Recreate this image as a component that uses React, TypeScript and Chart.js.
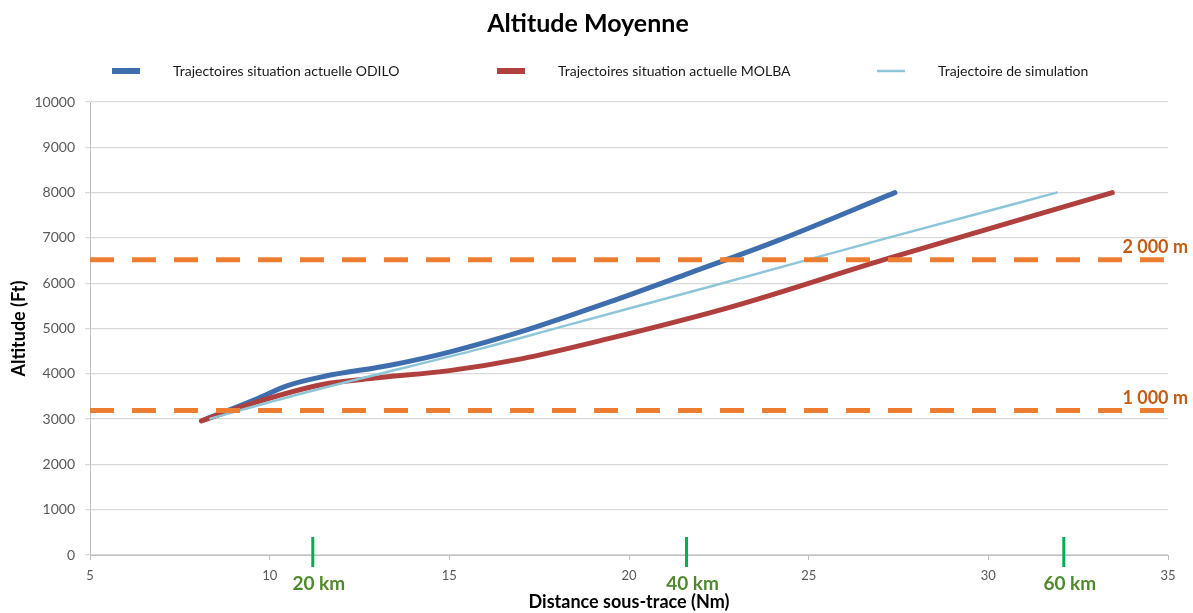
import React, { useEffect, useRef } from "react";
import { Chart, registerables } from "chart.js";

Chart.register(...registerables);

// ---- Data ----
const odiloX = [8.2, 9.65, 10.5, 11.5, 13.35, 15.0, 17.0, 19.4, 21.7, 24.1, 27.4];
const odiloY = [2990, 3450, 3740, 3940, 4190, 4480, 4930, 5570, 6230, 6930, 8000];

const molbaX = [8.1, 9.65, 11.5, 13.0, 15.0, 17.0, 19.4, 22.9, 27.1, 33.45];
const molbaY = [2960, 3380, 3770, 3910, 4070, 4330, 4770, 5490, 6520, 8000];

const simX = [8.35, 10.3, 12.4, 15.85, 18.08, 22.6, 27.2, 31.9];
const simY = [3010, 3440, 3870, 4550, 5030, 6000, 7000, 8000];

const thresholdsFt = [6520, 3190];
const thresholdLabels = ["2 000 m", "1 000 m"];

const kmMarksNm = [11.2, 21.6, 32.1];
const kmLabels = ["20 km", "40 km", "60 km"];

const seriesLabels = [
  "Trajectoires situation actuelle ODILO",
  "Trajectoires situation actuelle MOLBA",
  "Trajectoire de simulation",
];
const chartTitle = "Altitude Moyenne";
const xTitle = "Distance sous-trace (Nm)";
const yTitle = "Altitude (Ft)";
const xMin = 5, xMax = 35, xStep = 5;
const yMin = 0, yMax = 10000, yStep = 1000;

// ---- Styles ----
const BLUE = "#3F6EAE";
const RED = "#B0403D";
const LIGHT = "#8DC5D9";
const ORANGE = "#ED7D31";
const GREEN = "#00B050";
const KM_TEXT = "#4E8A2C";
const M_TEXT = "#C55A11";
const FONT = "Lato, 'Open Sans', sans-serif";

const pts = (xs: number[], ys: number[]) => xs.map((x, i) => ({ x, y: ys[i] }));

const overlayPlugin = {
  id: "overlay",
  afterDatasetsDraw(chart: any) {
    const ctx = chart.ctx;
    const xs = chart.scales.x;
    const ys = chart.scales.y;
    const area = chart.chartArea;
    ctx.save();
    kmMarksNm.forEach((v, i) => {
      const px = xs.getPixelForValue(v);
      ctx.strokeStyle = GREEN;
      ctx.lineWidth = 3;
      ctx.beginPath();
      ctx.moveTo(px, area.bottom - 18);
      ctx.lineTo(px, area.bottom + 12);
      ctx.stroke();
      ctx.fillStyle = KM_TEXT;
      ctx.font = `bold 19px ${FONT}`;
      ctx.textAlign = "center";
      ctx.textBaseline = "middle";
      ctx.fillText(kmLabels[i], px + 6, area.bottom + 29);
    });
    thresholdsFt.forEach((v, i) => {
      const py = ys.getPixelForValue(v);
      ctx.fillStyle = M_TEXT;
      ctx.font = `bold 18px ${FONT}`;
      ctx.textAlign = "right";
      ctx.textBaseline = "middle";
      ctx.fillText(thresholdLabels[i], chart.width - 5, py - 12);
    });
    ctx.restore();
  },
  afterDraw(chart: any) {
    const ctx = chart.ctx;
    ctx.save();
    ctx.fillStyle = "#000";
    ctx.font = `bold 25px ${FONT}`;
    ctx.textAlign = "center";
    ctx.textBaseline = "middle";
    ctx.fillText(chartTitle, 588, 24);
    const starts = [112, 497, 877];
    const colors = [BLUE, RED, LIGHT];
    const widths = [6, 6, 2.5];
    ctx.font = `14px ${FONT}`;
    ctx.textAlign = "left";
    starts.forEach((sx, i) => {
      ctx.strokeStyle = colors[i];
      ctx.lineWidth = widths[i];
      ctx.beginPath();
      ctx.moveTo(sx, 71);
      ctx.lineTo(sx + 28, 71);
      ctx.stroke();
      ctx.fillStyle = "#1a1a1a";
      ctx.fillText(seriesLabels[i], sx + 61, 71);
    });
    ctx.restore();
  },
};

export default function App() {
  const ref = useRef<HTMLCanvasElement | null>(null);
  useEffect(() => {
    document.body.style.margin = "0";
    if (!ref.current) return;
    const lineBase = {
      pointRadius: 0,
      pointHoverRadius: 0,
      fill: false,
      borderCapStyle: "round" as const,
      borderJoinStyle: "round" as const,
      cubicInterpolationMode: "monotone" as const,
    };
    const datasets: any[] = [
      ...thresholdsFt.map((t) => ({
        label: "thr" + t,
        data: [{ x: xMin, y: t }, { x: xMax, y: t }],
        borderColor: ORANGE,
        borderWidth: 5,
        borderDash: [24, 18],
        pointRadius: 0,
        fill: false,
      })),
      { ...lineBase, label: seriesLabels[2], data: pts(simX, simY), borderColor: LIGHT, borderWidth: 2.5 },
      { ...lineBase, label: seriesLabels[1], data: pts(molbaX, molbaY), borderColor: RED, borderWidth: 5 },
      { ...lineBase, label: seriesLabels[0], data: pts(odiloX, odiloY), borderColor: BLUE, borderWidth: 5 },
    ];
    const chart = new Chart(ref.current, {
      type: "line",
      data: { datasets },
      options: {
        animation: false,
        responsive: true,
        maintainAspectRatio: false,
        layout: { padding: { top: 102, right: 25, left: 0, bottom: 0 } },
        plugins: {
          legend: { display: false },
          title: { display: false },
          tooltip: { enabled: false },
        },
        scales: {
          x: {
            type: "linear",
            min: xMin,
            max: xMax,
            ticks: {
              stepSize: xStep,
              color: "#595959",
              font: { family: FONT, size: 13 },
              padding: 8,
              maxRotation: 0,
              callback: (v: any) => String(v),
            },
            grid: { drawOnChartArea: false, drawTicks: true, tickLength: 5, color: "#BFBFBF" },
            border: { color: "#BFBFBF", width: 1 },
            title: {
              display: true,
              text: xTitle,
              color: "#000",
              font: { family: FONT, size: 18, weight: "bold" },
              padding: { top: 0, bottom: 0 },
            },
            afterFit: (s: any) => { s.height = 58; },
          },
          y: {
            type: "linear",
            min: yMin,
            max: yMax,
            ticks: {
              stepSize: yStep,
              color: "#595959",
              font: { family: FONT, size: 14 },
              padding: 10,
              callback: (v: any) => String(v),
            },
            grid: { color: "#D9D9D9", lineWidth: 1.3, tickLength: 5 },
            border: { color: "#BFBFBF", width: 1 },
            title: {
              display: true,
              text: yTitle,
              color: "#000",
              font: { family: FONT, size: 18, weight: "bold" },
              padding: { top: 8, bottom: 0 },
            },
            afterFit: (s: any) => { s.width = 90; },
          },
        },
      },
      plugins: [overlayPlugin],
    });
    return () => chart.destroy();
  }, []);
  return (
    <div style={{ width: 1193, height: 613, position: "relative" }}>
      <canvas ref={ref} />
    </div>
  );
}
